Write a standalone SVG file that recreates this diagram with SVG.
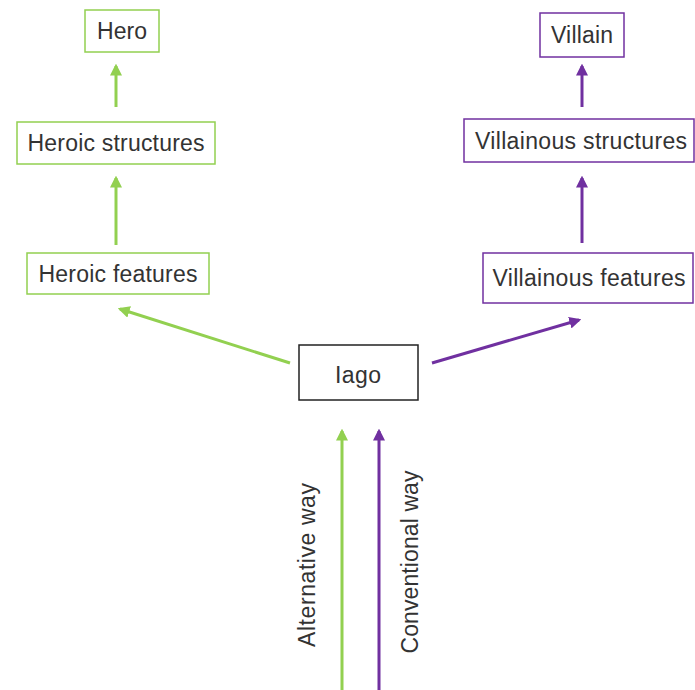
<svg xmlns="http://www.w3.org/2000/svg" width="695" height="690" viewBox="0 0 695 690">
<defs>
<style>
.t{font-family:"Liberation Sans",Arial,sans-serif;font-size:23px;fill:#333;text-anchor:middle;dominant-baseline:central}
.g{fill:#fff;stroke:#92d050;stroke-width:1.5}
.p{fill:#fff;stroke:#7030a0;stroke-width:1.5}
.k{fill:#fff;stroke:#222;stroke-width:1.5}
.lg{stroke:#92d050;stroke-width:3;fill:none;marker-end:url(#ag)}
.lp{stroke:#7030a0;stroke-width:3;fill:none;marker-end:url(#ap)}
</style>
<marker id="ag" viewBox="0 0 10 10" refX="8" refY="5" markerWidth="4" markerHeight="4" orient="auto" markerUnits="strokeWidth"><path d="M0,0L10,5L0,10z" fill="#92d050"/></marker>
<marker id="ap" viewBox="0 0 10 10" refX="8" refY="5" markerWidth="4" markerHeight="4" orient="auto" markerUnits="strokeWidth"><path d="M0,0L10,5L0,10z" fill="#7030a0"/></marker>
</defs>
<rect width="695" height="690" fill="#fff"/>
<g id="connectors">
<line class="lg" x1="116" y1="107" x2="116" y2="66"/>
<line class="lg" x1="116" y1="245" x2="116" y2="178"/>
<line class="lg" x1="290" y1="363" x2="120" y2="309"/>
<line class="lp" x1="582" y1="107" x2="582" y2="66"/>
<line class="lp" x1="582" y1="243" x2="582" y2="178"/>
<line class="lp" x1="432" y1="363" x2="579" y2="320"/>
<line class="lg" x1="342" y1="690" x2="342" y2="431"/>
<line class="lp" x1="379" y1="690" x2="379" y2="431"/>
</g>
<g id="hero"><rect class="g" x="85" y="10" width="74" height="42"/><text class="t" x="122" y="31" textLength="50">Hero</text></g>
<g id="heroic-structures"><rect class="g" x="17" y="122" width="198" height="42"/><text class="t" x="116" y="143" textLength="177">Heroic structures</text></g>
<g id="heroic-features"><rect class="g" x="27" y="253" width="182" height="41"/><text class="t" x="118" y="274" textLength="159">Heroic features</text></g>
<g id="villain"><rect class="p" x="540" y="13" width="84" height="44"/><text class="t" x="582" y="35" textLength="62">Villain</text></g>
<g id="villainous-structures"><rect class="p" x="464" y="119" width="230" height="43"/><text class="t" x="581" y="141" textLength="212">Villainous structures</text></g>
<g id="villainous-features"><rect class="p" x="483" y="253" width="210" height="50"/><text class="t" x="589" y="278" textLength="193">Villainous features</text></g>
<g id="iago"><rect class="k" x="299" y="345" width="119" height="55"/><text class="t" x="358" y="375" textLength="46">Iago</text></g>
<g id="labels">
<text class="t" transform="translate(307,565) rotate(-90)" textLength="164">Alternative way</text>
<text class="t" transform="translate(410,562) rotate(-90)" textLength="183">Conventional way</text>
</g>
</svg>
